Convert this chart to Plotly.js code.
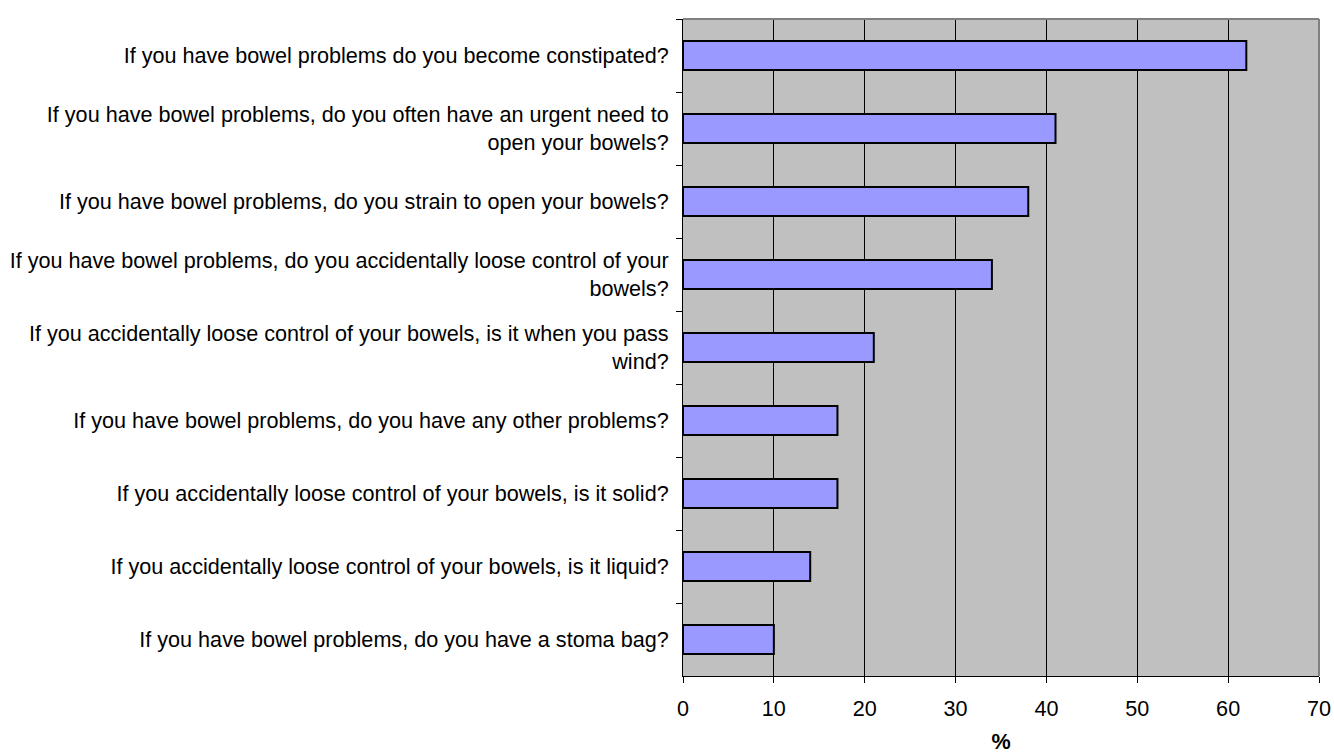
<!DOCTYPE html>
<html>
<head>
<meta charset="utf-8">
<script src="https://cdn.plot.ly/plotly-3.0.1.min.js"></script>
<style>html,body{margin:0;padding:0;background:#fff;}#chart{width:1334px;height:754px;}</style>
</head>
<body>
<div id="chart"></div>
<script>
const questions = [
  "If you have bowel problems do you become constipated?",
  "If you have bowel problems, do you often have an urgent need to<br>open your bowels?",
  "If you have bowel problems, do you strain to open your bowels?",
  "If you have bowel problems, do you accidentally loose control of your<br>bowels?",
  "If you accidentally loose control of your bowels, is it when you pass<br>wind?",
  "If you have bowel problems, do you have any other problems?",
  "If you accidentally loose control of your bowels, is it solid?",
  "If you accidentally loose control of your bowels, is it liquid?",
  "If you have bowel problems, do you have a stoma bag?"
];
const percents = [62, 41, 38, 34, 21, 17, 17, 14, 10];
const xTicks = [0, 10, 20, 30, 40, 50, 60, 70];

const trace = {
  type: 'bar',
  orientation: 'h',
  x: percents,
  y: questions,
  marker: {color: '#9999ff', line: {color: '#000000', width: 2}},
  hoverinfo: 'x+y'
};

const layout = {
  width: 1334, height: 754,
  margin: {l: 683, r: 15, t: 19, b: 78, pad: 0},
  paper_bgcolor: '#ffffff',
  plot_bgcolor: '#c0c0c0',
  font: {family: 'Liberation Sans, Arial, sans-serif', size: 21.6, color: '#000'},
  bargap: 0.6,
  showlegend: false,
  xaxis: {
    range: [0, 70],
    tickvals: xTicks,
    ticktext: xTicks.map(String),
    showgrid: true, gridcolor: '#000000', gridwidth: 1,
    zeroline: false,
    showline: true, linecolor: '#000000', linewidth: 1,
    ticks: 'outside', ticklen: 6, tickcolor: '#000', tickwidth: 1,
    ticklabelstandoff: 7,
    tickfont: {size: 21.6},
    title: {text: '<b>%</b>', font: {size: 21.6}, standoff: 19}
  },
  yaxis: {
    type: 'category',
    autorange: 'reversed',
    showgrid: false,
    zeroline: false,
    showline: true, linecolor: '#000000', linewidth: 1,
    ticks: 'outside', ticklen: 6, tickcolor: '#000', tickwidth: 1,
    tickson: 'boundaries',
    ticklabelstandoff: 9,
    tickfont: {size: 21.6}
  },
  shapes: [
    {type: 'line', xref: 'paper', yref: 'paper', x0: 0, x1: 1, y0: 1, y1: 1, line: {color: '#808080', width: 2}},
    {type: 'line', xref: 'paper', yref: 'paper', x0: 1, x1: 1, y0: 0, y1: 1, line: {color: '#808080', width: 2}}
  ]
};

Plotly.newPlot('chart', [trace], layout, {displayModeBar: false, staticPlot: true});
</script>
</body>
</html>
